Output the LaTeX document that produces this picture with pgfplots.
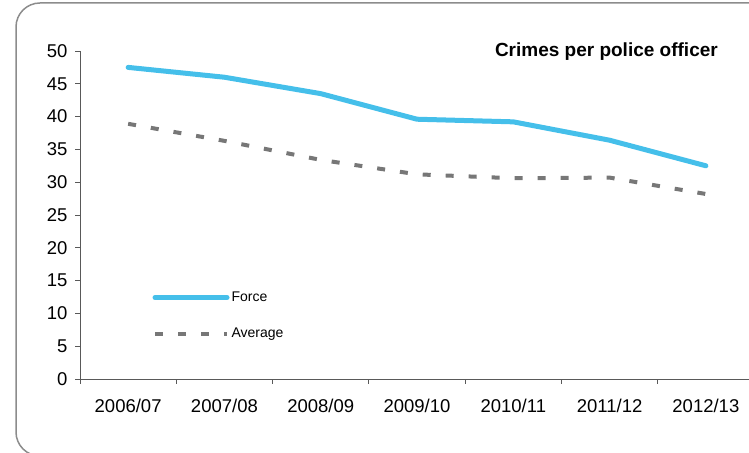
\documentclass[border=0pt]{standalone}
\usepackage{pgfplots}
\pgfplotsset{compat=1.18}
\usepackage{fontspec}
\setmainfont{Liberation Sans}
\definecolor{forceblue}{HTML}{45BFEA}
\definecolor{avggray}{HTML}{777777}
\definecolor{framegray}{HTML}{8C8C8C}
\definecolor{axisgray}{HTML}{595959}
\begin{document}
\begin{tikzpicture}[x=1bp,y=1bp]
\path[use as bounding box] (0,0) rectangle (749,453);
\draw[framegray, line width=1.5bp, rounded corners=24bp] (16,450) rectangle (800,-3);
\begin{axis}[
  at={(80bp,74bp)}, anchor=south west,
  scale only axis, width=674bp, height=328bp,
  xmin=-0.5, xmax=6.5, ymin=0, ymax=50,
  axis x line=bottom, axis y line=left,
  axis line style={-, axisgray, line width=0.8bp},
  xtick={0,...,6},
  xticklabels={2006/07,2007/08,2008/09,2009/10,2010/11,2011/12,2012/13},
  major x tick style={draw=none},
  minor xtick={-0.5,0.5,1.5,2.5,3.5,4.5,5.5,6.5},
  minor x tick style={axisgray, line width=0.8bp},
  minor tick length=5bp,
  ytick={0,5,...,50},
  tick align=outside,
  major tick length=5bp,
  y tick style={axisgray, line width=0.8bp},
  /pgf/number format/assume math mode=true,
  tick label style={font=\fontsize{18.5bp}{21bp}\selectfont},
  yticklabel style={xshift=-4bp},
  xticklabel style={yshift=-12bp},
  legend style={at={(axis cs:0.22,13.9)}, anchor=north west, draw=none, fill=none,
    font=\fontsize{14bp}{16bp}\selectfont, row sep=21bp},
  legend cell align=left,
  legend image code/.code={\draw[#1] (0bp,0bp) -- (72bp,0bp);},
]
\addplot[forceblue, line width=5bp, line cap=round, line join=round] coordinates {
(0,47.5) (1,46.0) (2,43.5) (3,39.6) (4,39.2) (5,36.4) (6,32.5)};
\addlegendentry{Force}
\addplot[avggray, line width=4bp, dash pattern=on 8bp off 15bp] coordinates {
(0,38.9) (1,36.3) (2,33.4) (3,31.2) (4,30.6) (5,30.7) (6,28.2)};
\addlegendentry{Average}
\end{axis}
\node[anchor=base east, inner sep=0pt, font=\fontsize{19bp}{22bp}\selectfont\bfseries] at (718,396) {Crimes per police officer};
\end{tikzpicture}
\end{document}
